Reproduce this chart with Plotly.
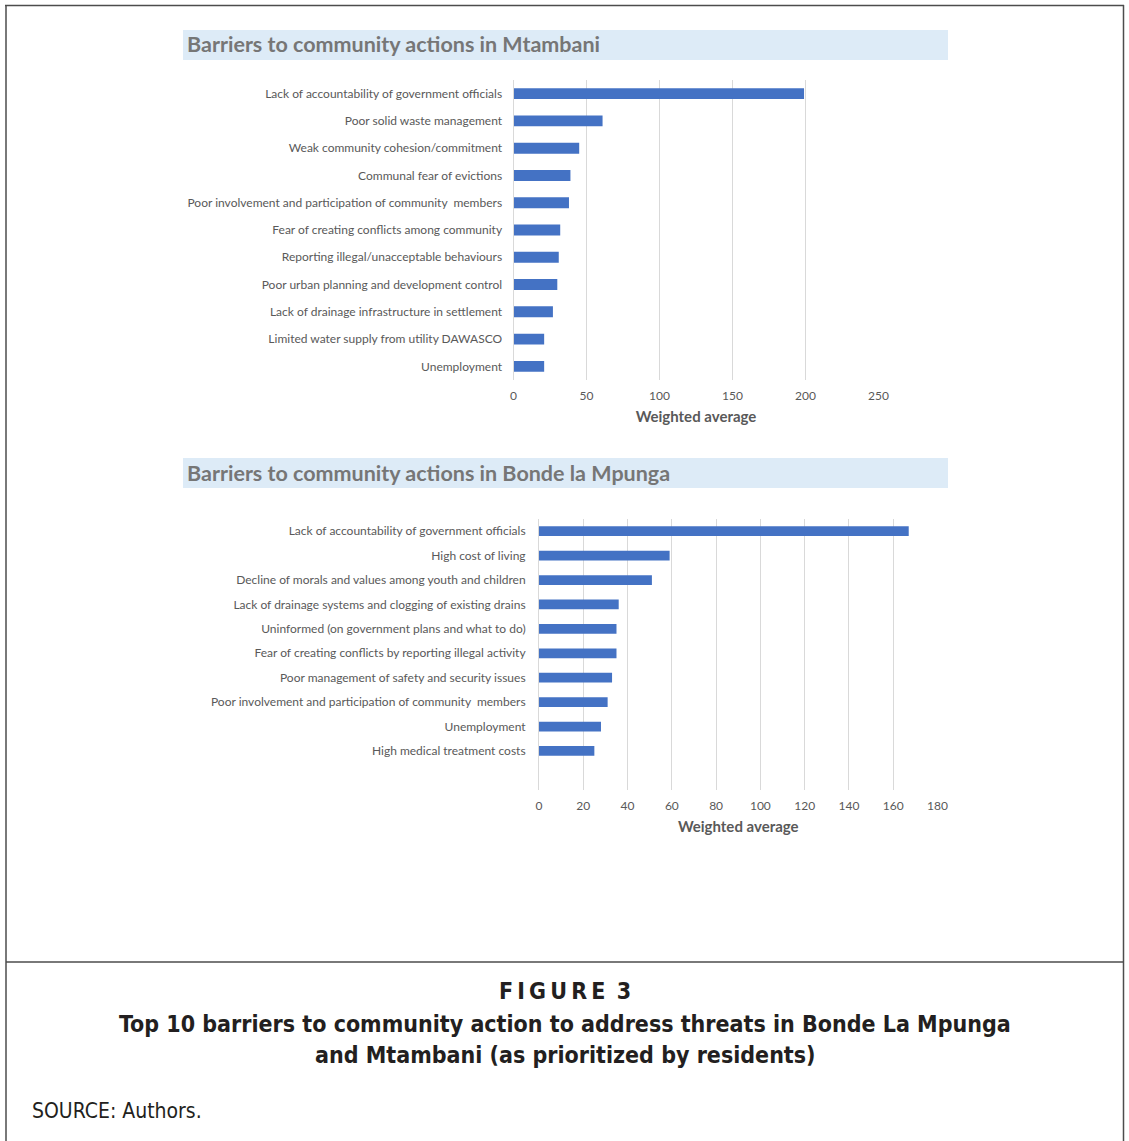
import plotly.graph_objects as go

# Barrier rankings (weighted average scores)
mtambani_labels = [
    "Lack of accountability of government officials",
    "Poor solid waste management",
    "Weak community cohesion/commitment",
    "Communal fear of evictions",
    "Poor involvement and participation of community  members",
    "Fear of creating conflicts among community",
    "Reporting illegal/unacceptable behaviours",
    "Poor urban planning and development control",
    "Lack of drainage infrastructure in settlement",
    "Limited water supply from utility DAWASCO",
    "Unemployment",
]
mtambani_values = [199, 61, 45, 39, 38, 32, 31, 30, 27, 21, 21]

bonde_labels = [
    "Lack of accountability of government officials",
    "High cost of living",
    "Decline of morals and values among youth and children",
    "Lack of drainage systems and clogging of existing drains",
    "Uninformed (on government plans and what to do)",
    "Fear of creating conflicts by reporting illegal activity",
    "Poor management of safety and security issues",
    "Poor involvement and participation of community  members",
    "Unemployment",
    "High medical treatment costs",
]
bonde_values = [167, 59, 51, 36, 35, 35, 33, 31, 28, 25]

mtambani_ticks = [0, 50, 100, 150, 200, 250]
bonde_ticks = [0, 20, 40, 60, 80, 100, 120, 140, 160, 180]

W, H = 1129, 1141


def px(x):
    return x / W


def py(y):
    return 1 - y / H


BAR = "#4472C4"
GREY_TXT = "#595959"
GRID = "#D9D9D9"
LABEL_FONT = "Lato, Open Sans, sans-serif"
CAP_FONT = "DejaVu Sans Condensed, Liberation Sans Narrow, sans-serif"

fig = go.Figure()

fig.add_trace(go.Bar(
    x=mtambani_values, y=list(range(len(mtambani_labels))), orientation="h",
    marker=dict(color=BAR, line=dict(width=0)), width=0.4,
    xaxis="x", yaxis="y", showlegend=False, hoverinfo="x",
))
fig.add_trace(go.Bar(
    x=bonde_values, y=list(range(len(bonde_labels))), orientation="h",
    marker=dict(color=BAR, line=dict(width=0)), width=0.4,
    xaxis="x2", yaxis="y2", showlegend=False, hoverinfo="x",
))

tick_font = dict(family=LABEL_FONT, size=12, color=GREY_TXT)
axis_title_font = dict(family=LABEL_FONT, size=15, color=GREY_TXT)
xcommon = dict(showgrid=True, gridcolor=GRID, gridwidth=1, zeroline=False,
               showline=False, ticks="outside", ticklen=5,
               tickcolor="rgba(0,0,0,0)", tickfont=tick_font, fixedrange=True,
               automargin=False)
ycommon = dict(showgrid=False, zeroline=False, showline=True, linecolor=GRID,
               linewidth=1, ticks="outside",
               tickcolor="rgba(0,0,0,0)", tickfont=tick_font, fixedrange=True,
               automargin=False)

fig.update_layout(
    width=W, height=H,
    margin=dict(l=0, r=0, t=0, b=0, autoexpand=False),
    paper_bgcolor="white", plot_bgcolor="white",
    xaxis=dict(domain=[px(513.5), px(878.5)], range=[0, 250],
               tickvals=mtambani_ticks, anchor="y",
               title=dict(text="<b>Weighted average</b>", standoff=9,
                          font=axis_title_font),
               **xcommon),
    yaxis=dict(domain=[py(380), py(80)], range=[10.5, -0.5],
               tickvals=list(range(len(mtambani_labels))), ticktext=mtambani_labels,
               anchor="x", ticklen=8, **ycommon),
    xaxis2=dict(domain=[px(539), px(937.5)], range=[0, 180],
                tickvals=bonde_ticks, anchor="y2",
                title=dict(text="<b>Weighted average</b>", standoff=9,
                           font=axis_title_font),
                **xcommon),
    yaxis2=dict(domain=[py(790), py(519)], range=[10.6, -0.5],
                tickvals=list(range(len(bonde_labels))), ticktext=bonde_labels,
                anchor="x2", ticklen=10, **ycommon),
)

# Panel heading bands
shapes = []
for top, bottom in [(30, 60), (458, 488)]:
    shapes.append(dict(type="rect", xref="paper", yref="paper",
                       x0=px(183), x1=px(948), y0=py(bottom), y1=py(top),
                       fillcolor="#DDEBF7", line=dict(width=0), layer="below"))

# Figure frame and caption divider
FRAME = "#4D4D4D"
shapes += [
    dict(type="line", xref="paper", yref="paper", x0=px(5), x1=px(1124),
         y0=py(5.5), y1=py(5.5), line=dict(color=FRAME, width=1.5)),
    dict(type="line", xref="paper", yref="paper", x0=px(6), x1=px(6),
         y0=py(5), y1=py(1141), line=dict(color=FRAME, width=1.5)),
    dict(type="line", xref="paper", yref="paper", x0=px(1123.5), x1=px(1123.5),
         y0=py(5), y1=py(1141), line=dict(color=FRAME, width=1.5)),
    dict(type="line", xref="paper", yref="paper", x0=px(6), x1=px(1123.5),
         y0=py(962), y1=py(962), line=dict(color=FRAME, width=1.5)),
]
fig.update_layout(shapes=shapes)

head_font = dict(family=LABEL_FONT, size=21.5, color="#767676")
cap_font = dict(family=CAP_FONT, size=23, color="#231F20")
annotations = [
    dict(text="<b>Barriers to community actions in Mtambani</b>",
         x=px(185), y=py(44.5), xanchor="left", yanchor="middle", font=head_font),
    dict(text="<b>Barriers to community actions in Bonde la Mpunga</b>",
         x=px(185), y=py(472.5), xanchor="left", yanchor="middle", font=head_font),
    dict(text="<b>F\u2009I\u2009G\u2009U\u2009R\u2009E\u2009 3</b>",
         x=px(565), y=py(991), xanchor="center", yanchor="middle", font=cap_font),
    dict(text="<b>Top 10 barriers to community action to address threats in Bonde La Mpunga</b>",
         x=px(565), y=py(1024), xanchor="center", yanchor="middle", font=cap_font),
    dict(text="<b>and Mtambani (as prioritized by residents)</b>",
         x=px(565), y=py(1055), xanchor="center", yanchor="middle", font=cap_font),
    dict(text="SOURCE: Authors.",
         x=px(30), y=py(1111), xanchor="left", yanchor="middle",
         font=dict(family=CAP_FONT, size=21, color="#231F20")),
]
for a in annotations:
    a.update(xref="paper", yref="paper", showarrow=False)
fig.update_layout(annotations=annotations)

fig.write_html("out.html")
